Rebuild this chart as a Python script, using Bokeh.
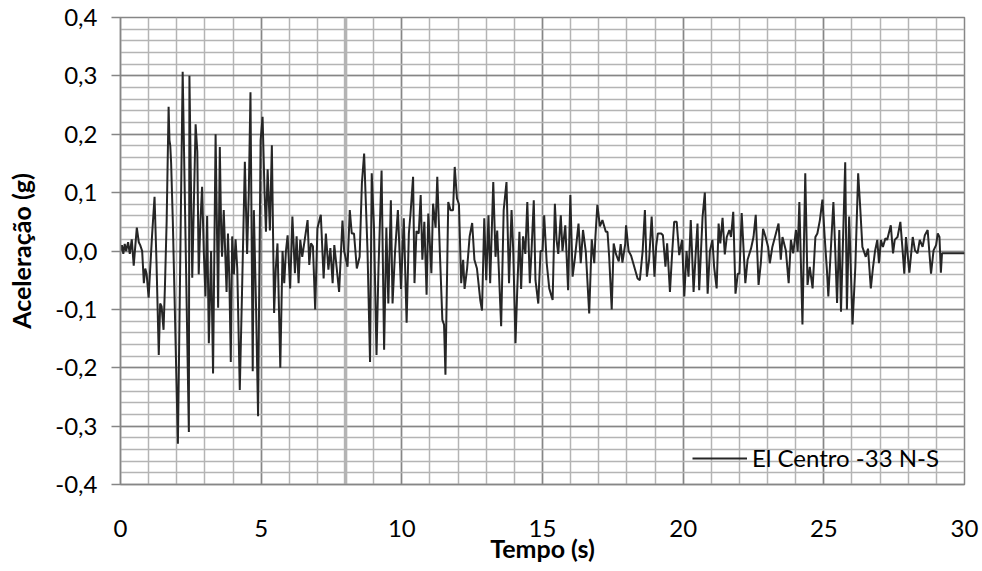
from bokeh.plotting import figure
from bokeh.models import (Range1d, FixedTicker, CustomJSTickFormatter, Span,
                          Legend, LegendItem)
from bokeh.embed import file_html
from bokeh.resources import INLINE

# ---- data ----
time_s = [
    0.00, 0.05, 0.10, 0.15, 0.20, 0.27, 0.33, 0.40, 0.47, 0.52, 0.58, 0.65, 0.70, 0.77,
    0.83, 0.88, 0.93, 1.00, 1.05, 1.12, 1.21, 1.28, 1.36, 1.41, 1.46, 1.53, 1.58, 1.64,
    1.71, 1.74, 1.77, 1.80, 1.86, 2.04, 2.21, 2.43, 2.45, 2.55, 2.67, 2.73, 2.78, 2.84,
    2.90, 2.96, 3.02, 3.08, 3.14, 3.22, 3.29, 3.38, 3.41, 3.47, 3.53, 3.58, 3.61, 3.67,
    3.72, 3.77, 3.82, 3.87, 3.92, 3.97, 4.03, 4.09, 4.15, 4.24, 4.32, 4.42, 4.50, 4.56,
    4.62, 4.70, 4.74, 4.82, 4.89, 4.98, 5.05, 5.12, 5.17, 5.23, 5.31, 5.38, 5.46, 5.52,
    5.58, 5.68, 5.76, 5.82, 5.88, 5.94, 6.03, 6.11, 6.20, 6.26, 6.33, 6.39, 6.46, 6.55,
    6.65, 6.71, 6.77, 6.84, 6.92, 7.00, 7.12, 7.22, 7.30, 7.39, 7.46, 7.54, 7.60, 7.68,
    7.77, 7.89, 7.95, 8.07, 8.15, 8.22, 8.30, 8.40, 8.50, 8.58, 8.66, 8.78, 8.87, 8.93,
    9.01, 9.10, 9.17, 9.28, 9.37, 9.45, 9.52, 9.61, 9.67, 9.76, 9.86, 9.97, 10.07, 10.17,
    10.25, 10.31, 10.40, 10.45, 10.52, 10.60, 10.67, 10.73, 10.80, 10.88, 10.94, 11.05,
    11.11, 11.20, 11.26, 11.35, 11.44, 11.50, 11.55, 11.65, 11.73, 11.82, 11.88, 11.96,
    12.03, 12.11, 12.18, 12.23, 12.32, 12.41, 12.50, 12.58, 12.67, 12.79, 12.85, 12.93,
    13.00, 13.08, 13.14, 13.25, 13.33, 13.39, 13.53, 13.62, 13.72, 13.81, 13.90, 13.96,
    14.04, 14.10, 14.18, 14.24, 14.31, 14.39, 14.46, 14.55, 14.61, 14.69, 14.75, 14.85,
    14.93, 15.00, 15.06, 15.15, 15.24, 15.36, 15.44, 15.50, 15.56, 15.65, 15.71, 15.81,
    15.91, 15.99, 16.07, 16.15, 16.28, 16.36, 16.44, 16.54, 16.66, 16.75, 16.84, 16.88,
    16.95, 17.04, 17.13, 17.25, 17.31, 17.37, 17.46, 17.53, 17.61, 17.71, 17.78, 17.84,
    17.94, 17.97, 18.06, 18.15, 18.38, 18.46, 18.56, 18.64, 18.71, 18.79, 18.88, 18.98,
    19.04, 19.10, 19.22, 19.28, 19.37, 19.43, 19.53, 19.60, 19.68, 19.77, 19.86, 19.96,
    20.04, 20.12, 20.19, 20.27, 20.37, 20.45, 20.51, 20.57, 20.69, 20.77, 20.87, 20.95,
    21.04, 21.10, 21.19, 21.26, 21.32, 21.40, 21.48, 21.55, 21.64, 21.70, 21.78, 21.86,
    21.94, 22.00, 22.08, 22.21, 22.29, 22.41, 22.50, 22.58, 22.68, 22.76, 22.84, 22.93,
    23.02, 23.08, 23.17, 23.39, 23.47, 23.53, 23.65, 23.75, 23.83, 23.91, 24.01, 24.07,
    24.13, 24.24, 24.34, 24.42, 24.50, 24.60, 24.70, 24.77, 24.86, 24.95, 25.03, 25.11,
    25.16, 25.26, 25.34, 25.41, 25.47, 25.55, 25.61, 25.67, 25.76, 25.82, 25.90, 25.96,
    26.02, 26.12, 26.22, 26.29, 26.37, 26.49, 26.57, 26.67, 26.75, 26.82, 26.90, 26.96,
    27.03, 27.10, 27.19, 27.25, 27.38, 27.46, 27.52, 27.62, 27.72, 27.80, 27.86, 27.92,
    28.04, 28.16, 28.24, 28.33, 28.41, 28.51, 28.59, 28.69, 28.81, 28.90, 28.99, 29.05,
    29.11, 29.16, 29.20, 30.00,
]
accel_g = [
    0.000, 0.010, -0.005, 0.012, 0.000, 0.015, -0.005, 0.020, -0.025, 0.005, 0.040, 0.015, 0.010, 0.000,
    -0.055, -0.030, -0.040, -0.080, -0.035, 0.025, 0.093, -0.020, -0.178, -0.090, -0.095, -0.135, -0.060, 0.050,
    0.247, 0.190, 0.180, 0.150, 0.050, -0.330, 0.307, -0.310, 0.300, -0.046, 0.217, 0.170, -0.040, 0.050,
    0.110, 0.000, -0.078, 0.060, -0.158, 0.000, -0.210, 0.200, 0.100, -0.097, 0.178, 0.030, -0.010, 0.070,
    0.000, -0.070, 0.030, -0.050, -0.190, 0.025, -0.040, 0.020, -0.030, -0.238, -0.070, 0.153, -0.005, 0.100,
    0.272, -0.206, 0.070, -0.100, -0.283, 0.190, 0.230, 0.100, 0.033, 0.140, 0.035, 0.181, -0.106, -0.030,
    0.013, -0.200, 0.000, -0.055, 0.000, 0.027, -0.064, 0.059, -0.038, 0.025, -0.055, 0.019, -0.010, 0.020,
    0.053, -0.024, 0.013, 0.008, -0.100, 0.039, 0.062, -0.047, 0.030, -0.032, 0.005, -0.055, 0.010, -0.027,
    -0.070, 0.052, 0.000, -0.027, 0.070, 0.030, 0.030, -0.030, -0.010, 0.116, 0.167, 0.000, -0.190, 0.133,
    0.040, -0.178, -0.030, 0.138, -0.169, 0.040, -0.090, 0.087, -0.090, 0.000, 0.070, -0.065, 0.056, -0.123,
    0.030, 0.065, 0.127, -0.055, 0.034, 0.030, 0.096, -0.015, 0.050, -0.075, 0.064, -0.038,
    0.081, 0.040, 0.127, 0.000, -0.118, -0.126, -0.212, 0.084, 0.070, 0.070, 0.144, 0.090,
    0.080, -0.055, -0.015, -0.065, -0.030, 0.025, 0.048, -0.015, -0.030, -0.085, -0.102, 0.056,
    -0.050, 0.061, -0.055, 0.118, -0.010, 0.035, -0.129, 0.070, 0.118, -0.055, 0.070, 0.000,
    -0.158, -0.070, 0.033, -0.065, 0.025, -0.005, 0.084, -0.055, 0.000, 0.087, -0.050, -0.090,
    0.000, 0.000, 0.061, -0.021, -0.064, -0.084, 0.081, 0.019, -0.005, 0.061, 0.000, 0.044,
    -0.067, 0.096, -0.044, -0.013, 0.047, -0.021, 0.036, -0.002, -0.107, 0.020, -0.021, 0.024,
    0.079, 0.042, 0.053, 0.033, 0.033, -0.010, -0.100, 0.013, -0.005, -0.018, 0.012, -0.020,
    0.012, 0.044, 0.000, -0.008, -0.047, -0.050, 0.000, 0.070, -0.044, -0.015, 0.059, -0.044,
    0.008, 0.030, 0.030, 0.027, -0.027, 0.013, -0.070, -0.010, 0.050, 0.050, -0.007, 0.019,
    -0.078, 0.000, -0.044, 0.053, -0.070, 0.000, 0.047, -0.067, 0.059, 0.100, -0.073, 0.000,
    0.019, -0.027, -0.064, 0.047, 0.013, 0.057, -0.006, 0.024, 0.036, 0.024, 0.067, -0.073,
    -0.039, -0.039, 0.065, -0.055, -0.015, 0.004, 0.024, 0.062, -0.058, -0.021, 0.038, 0.024,
    0.007, -0.021, 0.007, 0.047, -0.015, 0.024, 0.001, -0.055, 0.019, -0.004, 0.036, -0.001,
    0.084, -0.126, 0.133, -0.058, -0.027, -0.064, 0.024, 0.030, 0.053, 0.088, 0.024, -0.033,
    -0.078, 0.013, 0.084, -0.005, -0.089, 0.036, -0.104, -0.002, 0.152, -0.100, 0.059, -0.033,
    -0.126, -0.027, 0.133, 0.077, 0.007, -0.010, 0.004, -0.064, -0.027, 0.000, 0.019, -0.021,
    0.019, 0.007, 0.022, 0.019, 0.044, -0.004, 0.019, 0.024, 0.050, 0.001, -0.039, 0.024,
    -0.037, 0.024, 0.001, -0.004, 0.019, 0.007, 0.027, 0.036, -0.039, 0.001, 0.010, 0.030,
    0.024, -0.037, -0.004, -0.004,
]
series_name = "El Centro -33 N-S"
x_ticks = [0, 5, 10, 15, 20, 25, 30]
y_ticks = [-0.4, -0.3, -0.2, -0.1, 0.0, 0.1, 0.2, 0.3, 0.4]
x_title = "Tempo (s)"
y_title = "Aceleração (g)"

FONT = "Lato"
MAJOR = "#868686"
MINOR = "#b4b4b4"

p = figure(width=982, height=571, output_backend="svg", toolbar_location=None,
           x_range=Range1d(0, 30), y_range=Range1d(-0.4, 0.4),
           min_border_left=120, min_border_right=18, min_border_top=17,
           min_border_bottom=87, background_fill_color="white",
           border_fill_color="white")

p.xaxis.ticker = FixedTicker(ticks=x_ticks, minor_ticks=list(range(0, 31)))
p.yaxis.ticker = FixedTicker(ticks=y_ticks,
                             minor_ticks=[round(-0.4 + 0.02 * i, 2) for i in range(41)])
p.yaxis.formatter = CustomJSTickFormatter(code="return tick.toFixed(1).replace('.', ',');")

for g in (p.xgrid, p.ygrid):
    g.grid_line_color = MAJOR
    g.grid_line_width = 1.5
    g.minor_grid_line_color = MINOR
    g.minor_grid_line_width = 1.5

p.add_layout(Span(location=8, dimension="height", line_color=MINOR,
                  line_width=3.5, level="underlay"))

p.outline_line_color = MAJOR
p.outline_line_width = 1.5

for ax in (p.xaxis, p.yaxis):
    ax.axis_line_color = MAJOR
    ax.axis_line_width = 1.5
    ax.major_tick_line_color = MAJOR
    ax.major_tick_line_width = 1.5
    ax.minor_tick_out = 0
    ax.minor_tick_in = 0
    ax.major_tick_in = 0
    ax.major_label_text_font = FONT
    ax.major_label_text_font_size = "24px"
    ax.major_label_text_color = "black"
    ax.axis_label_text_font = FONT
    ax.axis_label_text_font_size = "25px"
    ax.axis_label_text_font_style = "bold"
    ax.axis_label_text_color = "black"

p.xaxis.major_tick_out = 0
p.xaxis.major_label_standoff = 35
p.xaxis.axis_label = x_title
p.xaxis.axis_label_standoff = -7
p.yaxis.major_tick_out = 9
p.yaxis.major_label_standoff = 14
p.yaxis.axis_label = y_title
p.yaxis.axis_label_standoff = 16

r = p.line(time_s, accel_g, line_color="#262626", line_width=2)

legend = Legend(items=[LegendItem(label=series_name, renderers=[r])],
                location=(572, 12), glyph_width=55, label_standoff=5,
                padding=0, spacing=0, border_line_alpha=0,
                background_fill_alpha=0, label_text_font=FONT,
                label_text_font_size="24px", label_text_color="black")
p.add_layout(legend)

open("out.html", "w").write(file_html(p, INLINE))
